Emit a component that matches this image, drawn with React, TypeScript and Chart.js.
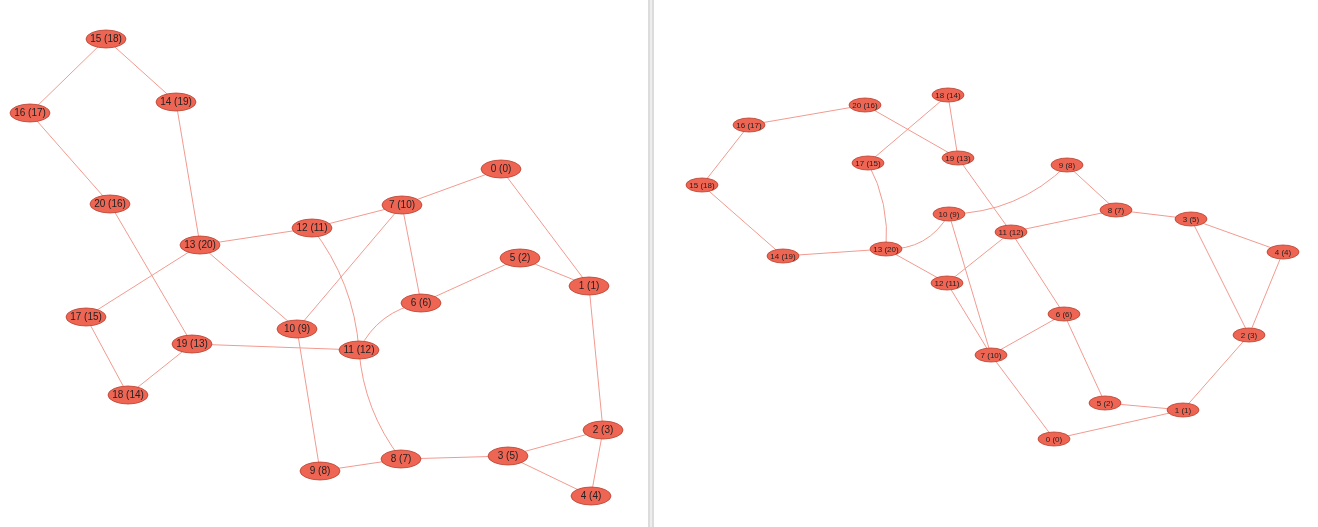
import React, { useEffect, useRef } from "react";
import { Chart, registerables } from "chart.js";
Chart.register(...registerables);

const leftLabels = ["15 (18)","16 (17)","14 (19)","20 (16)","13 (20)","12 (11)","7 (10)","0 (0)","5 (2)","1 (1)","6 (6)","10 (9)","17 (15)","19 (13)","11 (12)","18 (14)","2 (3)","3 (5)","8 (7)","9 (8)","4 (4)"];
const leftX = [106,30,176,110,200,312,402,501,520,589,421,297,86,192,359,128,603,508,401,320,591];
const leftY = [39,113,102,204,245,228,205,169,258,286,303,329,317,344,350,395,430,456,459,471,496];
const leftEdges: [string,string,number][] = [
  ["15 (18)","16 (17)",0],["15 (18)","14 (19)",0],["16 (17)","20 (16)",0],["14 (19)","13 (20)",0],
  ["20 (16)","19 (13)",0],["13 (20)","12 (11)",0],["13 (20)","17 (15)",0],["13 (20)","10 (9)",0],
  ["12 (11)","7 (10)",0],["12 (11)","11 (12)",-0.15],["7 (10)","0 (0)",0],["7 (10)","10 (9)",0],
  ["7 (10)","6 (6)",0],["0 (0)","1 (1)",0],["5 (2)","1 (1)",0],["5 (2)","6 (6)",0],
  ["6 (6)","11 (12)",0.25],["17 (15)","18 (14)",0],["19 (13)","18 (14)",0],["19 (13)","11 (12)",0],
  ["10 (9)","9 (8)",0],["11 (12)","8 (7)",0.15],["9 (8)","8 (7)",0],["8 (7)","3 (5)",0],
  ["3 (5)","2 (3)",0],["3 (5)","4 (4)",0],["2 (3)","4 (4)",0],["1 (1)","2 (3)",0],
];

const rightLabels = ["18 (14)","20 (16)","16 (17)","19 (13)","17 (15)","9 (8)","15 (18)","10 (9)","8 (7)","3 (5)","11 (12)","13 (20)","14 (19)","4 (4)","12 (11)","6 (6)","2 (3)","7 (10)","5 (2)","1 (1)","0 (0)"];
const rightX = [948,865,749,958,868,1067,702,949,1116,1191,1011,886,783,1283,947,1064,1249,991,1105,1183,1054];
const rightY = [95,105,125,158,163,165,185,214,210,219,232,249,256,252,283,314,335,355,403,410,439];
const rightEdges: [string,string,number][] = [
  ["18 (14)","17 (15)",0],["18 (14)","19 (13)",0],["20 (16)","16 (17)",0],["20 (16)","19 (13)",0],
  ["16 (17)","15 (18)",0],["15 (18)","14 (19)",0],["14 (19)","13 (20)",0],["17 (15)","13 (20)",-0.15],
  ["13 (20)","10 (9)",0.3],["13 (20)","12 (11)",0],["10 (9)","9 (8)",0.2],["10 (9)","7 (10)",0],
  ["9 (8)","8 (7)",0],["8 (7)","11 (12)",0],["8 (7)","3 (5)",0],["3 (5)","4 (4)",0],["3 (5)","2 (3)",0],
  ["4 (4)","2 (3)",0],["11 (12)","12 (11)",0],["11 (12)","6 (6)",0],["12 (11)","7 (10)",0],
  ["19 (13)","11 (12)",0],["6 (6)","7 (10)",0],["6 (6)","5 (2)",0],["7 (10)","0 (0)",0],
  ["5 (2)","1 (1)",0],["2 (3)","1 (1)",0],["0 (0)","1 (1)",0],
];

const graphs = [
  { labels: leftLabels, xs: leftX, ys: leftY, edges: leftEdges, rx: 20, ry: 9, font: 10 },
  { labels: rightLabels, xs: rightX, ys: rightY, edges: rightEdges, rx: 16, ry: 7, font: 8 },
];

const graphPlugin = {
  id: "graph",
  beforeDatasetsDraw(chart: any) {
    const ctx = chart.ctx;
    const xs = chart.scales.x, ys = chart.scales.y;
    ctx.save();
    ctx.fillStyle = "#dcdcdc";
    ctx.fillRect(xs.getPixelForValue(648), 0, xs.getPixelForValue(654) - xs.getPixelForValue(648), chart.height);
    ctx.fillStyle = "#eeeeee";
    ctx.fillRect(xs.getPixelForValue(650), 0, 2, chart.height);
    for (const g of graphs) {
      const pos = (l: string) => {
        const i = g.labels.indexOf(l);
        return [xs.getPixelForValue(g.xs[i]), ys.getPixelForValue(g.ys[i])];
      };
      ctx.strokeStyle = "#f29a90";
      ctx.lineWidth = 1;
      for (const [a, b, bend] of g.edges) {
        const [x1, y1] = pos(a), [x2, y2] = pos(b);
        ctx.beginPath();
        ctx.moveTo(x1, y1);
        if (bend) {
          const mx = (x1 + x2) / 2, my = (y1 + y2) / 2;
          const dx = x2 - x1, dy = y2 - y1;
          ctx.quadraticCurveTo(mx - dy * bend, my + dx * bend, x2, y2);
        } else ctx.lineTo(x2, y2);
        ctx.stroke();
      }
      for (let i = 0; i < g.labels.length; i++) {
        const px = xs.getPixelForValue(g.xs[i]), py = ys.getPixelForValue(g.ys[i]);
        ctx.beginPath();
        ctx.ellipse(px, py, g.rx, g.ry, 0, 0, Math.PI * 2);
        ctx.fillStyle = "#ef6553";
        ctx.fill();
        ctx.strokeStyle = "#b5402f";
        ctx.lineWidth = 0.8;
        ctx.stroke();
        ctx.fillStyle = "#222";
        ctx.font = `${g.font}px "Liberation Sans", Arial, sans-serif`;
        ctx.textAlign = "center";
        ctx.textBaseline = "middle";
        ctx.fillText(g.labels[i], px, py + 0.5);
      }
    }
    ctx.restore();
  },
};

export default function App() {
  const ref = useRef<HTMLCanvasElement>(null);
  useEffect(() => {
    document.body.style.margin = "0";
    const pts = graphs.flatMap(g => g.xs.map((x, i) => ({ x, y: g.ys[i] })));
    const chart = new Chart(ref.current!, {
      type: "scatter",
      data: { datasets: [{ data: pts, pointRadius: 0, pointHoverRadius: 0 }] },
      options: {
        animation: false,
        responsive: false,
        events: [],
        layout: { padding: 0 },
        plugins: { legend: { display: false }, tooltip: { enabled: false } },
        scales: {
          x: { type: "linear", min: 0, max: 1318, display: false },
          y: { type: "linear", min: 0, max: 527, reverse: true, display: false },
        },
      },
      plugins: [graphPlugin],
    });
    return () => chart.destroy();
  }, []);
  return <canvas ref={ref} width={1318} height={527} style={{ display: "block", background: "#fff" }} />;
}
